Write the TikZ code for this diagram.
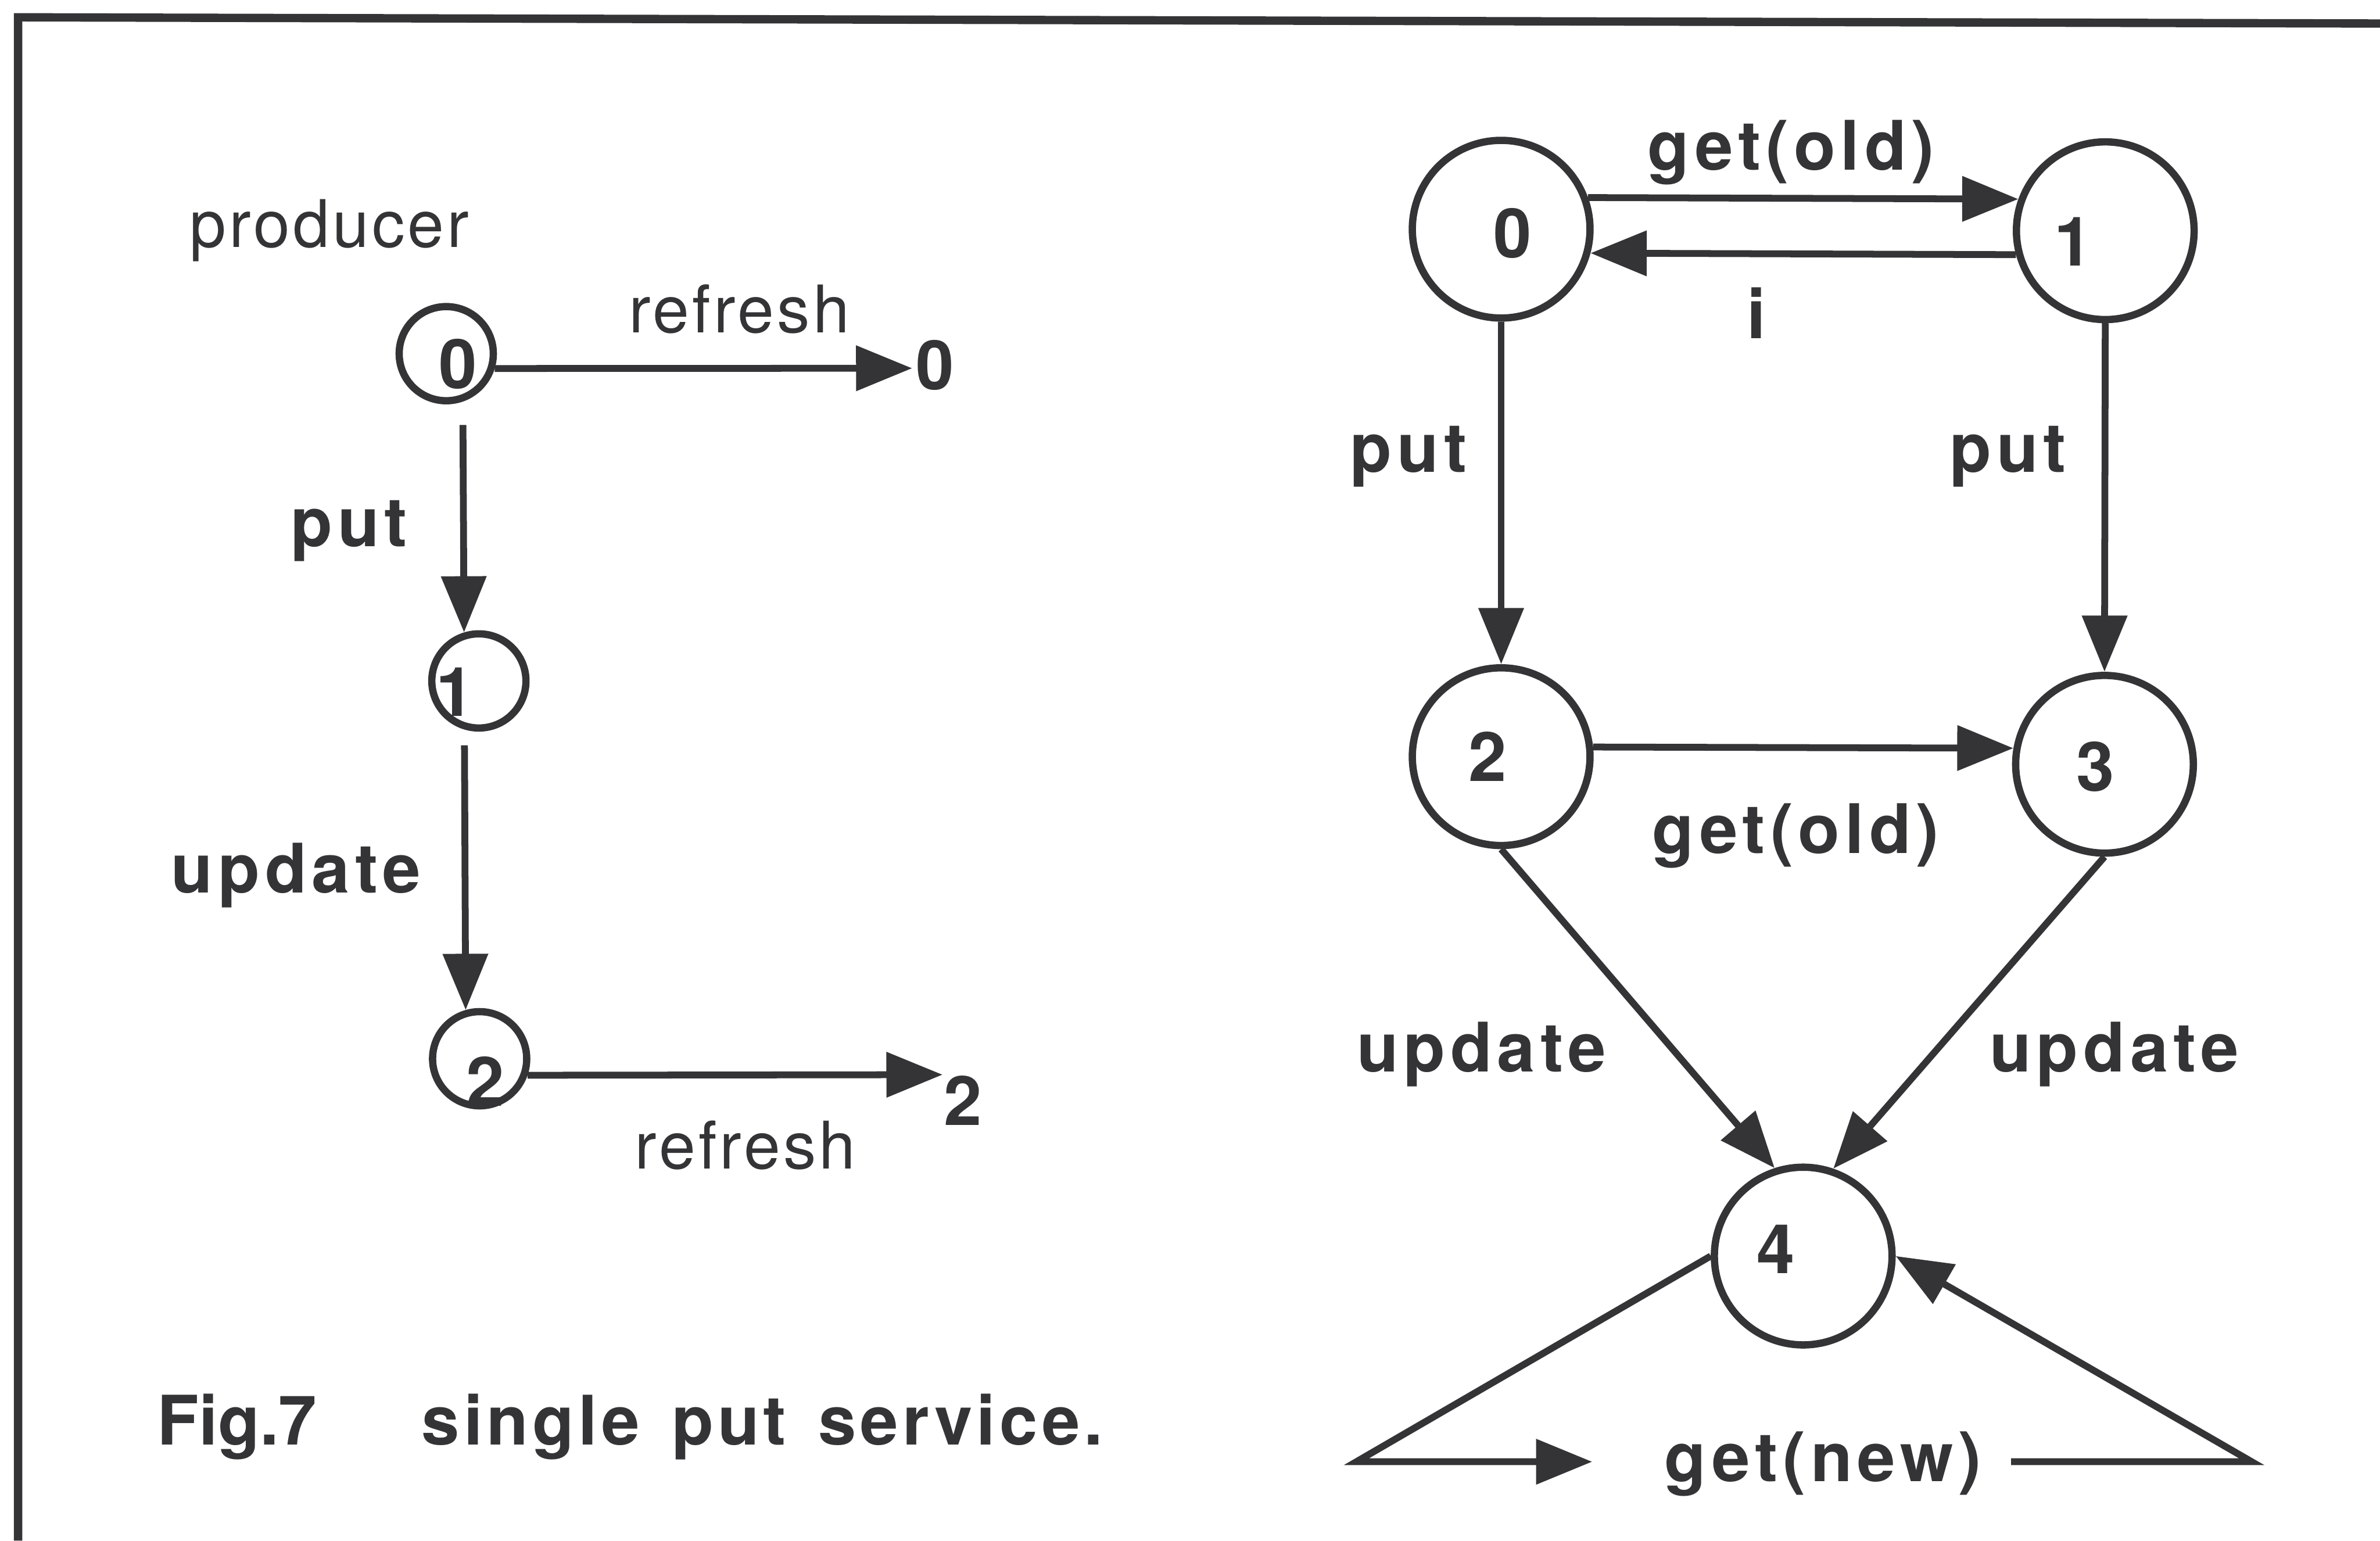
\documentclass[tikz,border=0pt]{standalone}
\usepackage{fontspec}
\setmainfont{TeX Gyre Heros}
\newfontfamily\tracked[LetterSpace=7.5]{TeX Gyre Heros}
\newfontfamily\trackedlight[LetterSpace=4.5]{TeX Gyre Heros}
\newfontfamily\trackedcap[LetterSpace=6]{TeX Gyre Heros}
\usetikzlibrary{arrows.meta}
\definecolor{ink}{RGB}{52,51,54}

\begin{document}
\begin{tikzpicture}[x=0.01cm, y=-0.01cm,
  conn/.style={draw=ink, line width=0.045cm},
  arr/.style={conn, -{Triangle[length=0.37cm,width=0.29cm]}},
  smallstate/.style={circle, draw=ink, line width=0.048cm, minimum size=0.62cm, inner sep=0},
  bigstate/.style={circle, draw=ink, line width=0.048cm, minimum size=1.17cm, inner sep=0},
  digit/.style={font=\fontsize{12.8}{15}\selectfont\bfseries, text=ink, inner sep=0},
  lbl/.style={font=\fontsize{12.8}{15}\selectfont\tracked\bfseries, text=ink, inner sep=0, anchor=base},
  thinlbl/.style={font=\fontsize{12.3}{14}\selectfont\trackedlight, text=ink, inner sep=0, anchor=base},
  caption/.style={font=\fontsize{12.8}{15}\selectfont\bfseries, text=ink, inner sep=0, anchor=base west}]

\useasboundingbox (0,0) rectangle (1568,1015);
\fill[white] (0,0) rectangle (1568,1015);

% frame edges
\draw[draw=ink, line width=0.055cm] (11.9,1015) -- (11.9,11.4) -- (1568,15.5);

% ---------- producer (left) ----------
\node[thinlbl] (prod) at (217,163) {producer};
\node[smallstate, label={[digit, shift={(7.6,7)}]center:0}] (c0) at (294,233) {};
\node[smallstate, label={[digit, shift={(-15.5,7.4)}]center:1}] (c1) at (315.5,448.6) {};
\node[smallstate, label={[digit, shift={(3.6,15)}]center:2}] (c2) at (316,697.5) {};

\node[digit, anchor=base] (z0) at (616,256.6) {0};
\node[digit, anchor=base] (z2) at (634.5,741.5) {2};
\coordinate (e0) at (601,242.6);
\coordinate (e2) at (621,708);
\coordinate (p0) at (305,280);
\coordinate (p1) at (306,491);

\draw[arr] (c0.-17) -- (e0);
\node[thinlbl] (rf0) at (487,219) {refresh};
\draw[arr] (p0) -- (c1.107);
\node[lbl] (put0) at (230,360) {put};
\draw[arr] (p1) -- (c2.106);
\node[lbl] (upd0) at (195,588) {update};
\draw[arr] (c2.-19) -- (e2);
\node[thinlbl] (rf2) at (491,770) {refresh};

% ---------- service (right) ----------
\node[bigstate, label={[digit, shift={(7.5,2.6)}]center:0}] (r0) at (989,151) {};
\node[bigstate, label={[digit, shift={(-21,7)}]center:1}] (r1) at (1387,152) {};
\node[bigstate, label={[digit, shift={(-9,0)}]center:2}] (r2) at (989,498.5) {};
\node[bigstate, label={[digit, shift={(-6,1.5)}]center:3}] (r3) at (1386.5,503.5) {};
\node[bigstate, label={[digit, shift={(-18,-4.5)}]center:4}] (r4) at (1188,827.5) {};

\draw[arr] (r0.20) -- (r1.160);
\node[lbl] (g0) at (1180,112) {get(old)};
\draw[arr] (r1.195) -- (r0.-15);
\node[lbl] (iota) at (1157,223) {i};

\draw[arr] (r0.south) -- (r2.north);
\node[lbl] (putL) at (928,311) {put};
\draw[arr] (r1.south) -- (r3.north);
\node[lbl] (putR) at (1323,311) {put};

\draw[arr] (r2.6) -- (r3.170);
\node[lbl] (g1) at (1183,562) {get(old)};

\draw[arr] (r2.south) -- (r4.108);
\node[lbl] (updL) at (976,706) {update};
\draw[arr] (r3.south) -- (r4.71);
\node[lbl] (updR) at (1393,706) {update};

\coordinate (lc) at (893.6,963);
\coordinate (la) at (1049,963);
\coordinate (rs) at (1325,963);
\coordinate (rc) at (1483.5,963);
\draw[arr] (r4.west) -- (lc) -- (la);
\node[lbl] (gn) at (1201,976) {get(new)};
\draw[arr] (rs) -- (rc) -- (r4.east);

% ---------- caption ----------
\node[caption] (cap) at (103,952) {Fig.7\hspace{0.69cm}{\trackedcap\bfseries single\hspace{0.06cm} put\hspace{0.06cm} service.}};
\end{tikzpicture}
\end{document}
